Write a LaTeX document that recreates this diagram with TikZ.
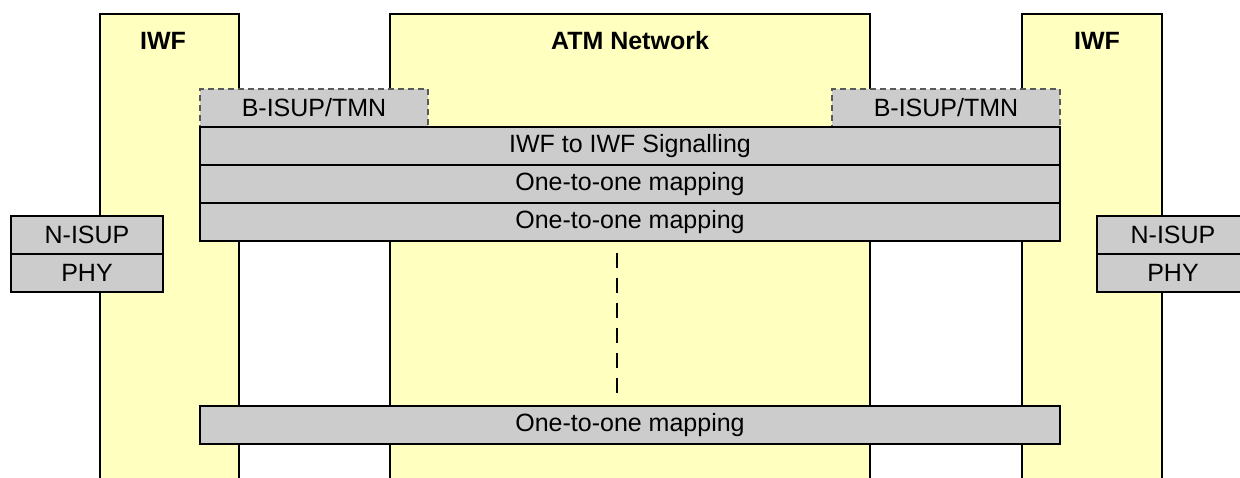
\documentclass[tikz,border=0pt]{standalone}
\usepackage{fontspec}
\setmainfont{Liberation Sans}
\usetikzlibrary{positioning}

\definecolor{colyellow}{HTML}{FFFFC0}
\definecolor{layergray}{HTML}{CCCCCC}

\tikzset{
    column/.style={draw=black, line width=2pt, fill=colyellow, anchor=north west,
        inner sep=0pt, outer sep=0pt, minimum height=480pt},
    layer/.style={draw=black, line width=2pt, fill=layergray, anchor=north west,
        inner sep=0pt, outer sep=0pt, minimum height=38pt,
        font=\fontsize{25}{29}\selectfont},
    optlayer/.style={layer, draw=black!65, dash pattern=on 6pt off 4pt, line width=1.5pt},
    coltitle/.style={font=\bfseries\fontsize{25}{29}\selectfont},
    gapline/.style={line width=2pt, dash pattern=on 15pt off 10pt},
}

\begin{document}
\begin{tikzpicture}[x=1pt, y=-1pt]

    \useasboundingbox (0,0) rectangle (1240,477);
    \clip (0,0) rectangle (1240,477);

    % Columns
    \node[column, minimum width=139pt] (iwfL) at (100,14) {};
    \node[column, minimum width=480pt] (atm) at (390,14) {};
    \node[column, minimum width=140pt] (iwfR) at (1022,14) {};
    \node[coltitle] at (163,41) {IWF};
    \node[coltitle] at (630,41) {ATM Network};
    \node[coltitle] at (1097,41) {IWF};

    % Optional B-ISUP/TMN on top
    \node[optlayer, minimum width=228pt] (bisupL) at (200,89) {B-ISUP/TMN};
    \node[optlayer, minimum width=228pt] (bisupR) at (832,89) {B-ISUP/TMN};

    % Signalling stack
    \node[layer, minimum width=860pt] (sig) at (200,127) {IWF to IWF Signalling};
    \node[layer, minimum width=860pt, below=0pt of sig] (mapA) {One-to-one mapping};
    \node[layer, minimum width=860pt, below=0pt of mapA] (mapB) {One-to-one mapping};
    \node[layer, minimum width=860pt] (mapN) at (200,406) {One-to-one mapping};

    % More mappings in between
    \coordinate (gapTop) at (617,253);
    \coordinate (gapBot) at (617,394);
    \draw[gapline] (gapTop) -- (gapBot);

    % Narrowband side
    \node[layer, minimum width=152pt] (nisupL) at (11,216) {N-ISUP};
    \node[layer, minimum width=152pt, below=0pt of nisupL] (phyL) {PHY};
    \node[layer, minimum width=152pt] (nisupR) at (1097,216) {N-ISUP};
    \node[layer, minimum width=152pt, below=0pt of nisupR] (phyR) {PHY};

\end{tikzpicture}
\end{document}
